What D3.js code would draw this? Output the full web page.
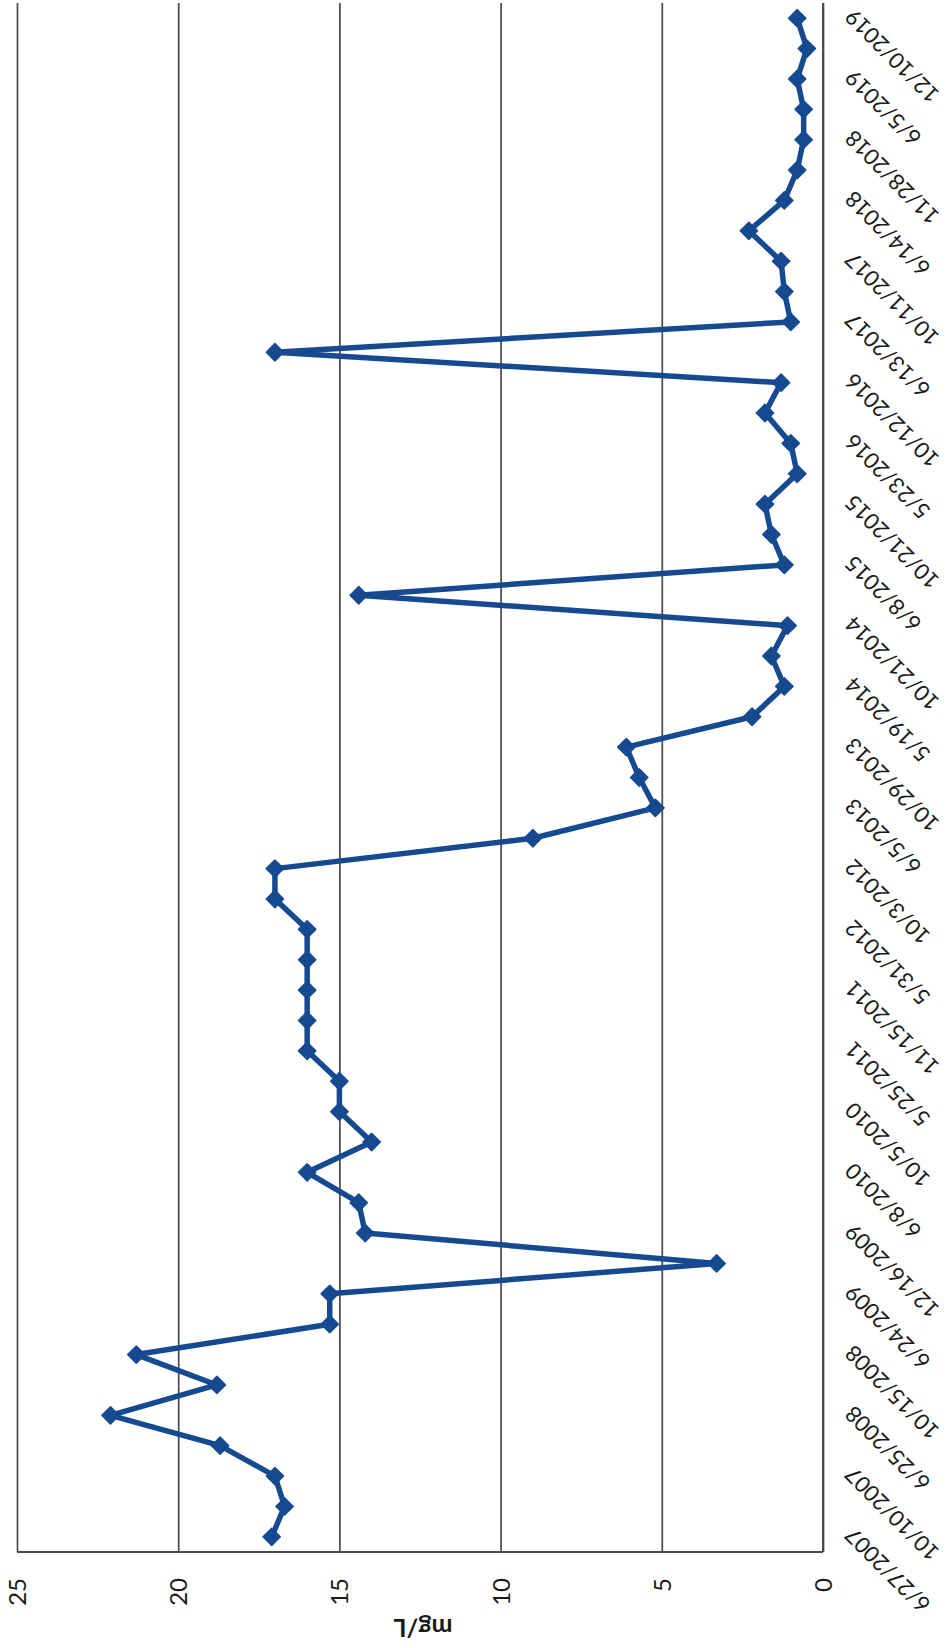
<!DOCTYPE html>
<html>
<head>
<meta charset="utf-8">
<script src="https://cdn.jsdelivr.net/npm/d3@7"></script>
<style>
  html, body { margin: 0; padding: 0; background: #ffffff; }
  svg { display: block; }
</style>
</head>
<body>
<svg id="chart" width="952" height="1648"></svg>
<script>
// Sampling dates (every other one is labelled on the axis; unlabelled ones are estimates)
const dates = [
  "6/27/2007","8/22/2007","10/10/2007","2/20/2008","6/25/2008","8/20/2008","10/15/2008","2/18/2009",
  "6/24/2009","9/16/2009","12/16/2009","3/17/2010","6/8/2010","8/10/2010","10/5/2010","2/15/2011",
  "5/25/2011","8/17/2011","11/15/2011","2/22/2012","5/31/2012","8/15/2012","10/3/2012","2/20/2013",
  "6/5/2013","8/21/2013","10/29/2013","2/19/2014","5/19/2014","8/12/2014","10/21/2014","2/17/2015",
  "6/8/2015","8/18/2015","10/21/2015","2/16/2016","5/23/2016","8/16/2016","10/12/2016","2/21/2017",
  "6/13/2017","8/15/2017","10/11/2017","2/20/2018","6/14/2018","8/21/2018","11/28/2018","2/19/2019",
  "6/5/2019","9/10/2019","12/10/2019"
];
// Concentration, mg/L
const values = [
  17.1, 16.7, 17.0, 18.7, 22.1, 18.8, 21.3, 15.3,
  15.3, 3.3, 14.2, 14.4, 16.0, 14.0, 15.0, 15.0,
  16.0, 16.0, 16.0, 16.0, 16.0, 17.0, 17.0, 9.0,
  5.2, 5.7, 6.1, 2.2, 1.2, 1.6, 1.1, 14.4,
  1.2, 1.6, 1.8, 0.8, 1.0, 1.8, 1.3, 17.0,
  1.0, 1.2, 1.3, 2.3, 1.2, 0.8, 0.6, 0.6,
  0.8, 0.5, 0.8
];
const tickLabels = [
  "6/27/2007","10/10/2007","6/25/2008","10/15/2008","6/24/2009","12/16/2009","6/8/2010",
  "10/5/2010","5/25/2011","11/15/2011","5/31/2012","10/3/2012","6/5/2013","10/29/2013",
  "5/19/2014","10/21/2014","6/8/2015","10/21/2015","5/23/2016","10/12/2016","6/13/2017",
  "10/11/2017","6/14/2018","11/28/2018","6/5/2019","12/10/2019"
];
const valueTicks = [0, 5, 10, 15, 20, 25];
const axisTitle = "mg/L";

const data = dates.map((d, i) => ({ date: d, value: values[i] }));

const W = 1648, H = 952;            // chart frame before rotation
const pLeft = 96, pRight = 1645, pTop = 17, pBottom = 823;
const lineColor = "#164a90";
const gridColor = "#4a4a4a";
const font = "Lato, 'Open Sans', sans-serif";

const svg = d3.select("#chart");
// The chart is drawn as a normal line chart and turned a quarter turn counter-clockwise
const g = svg.append("g").attr("transform", `translate(0,${W}) rotate(-90)`);

const x = d3.scalePoint().domain(dates).range([pLeft, pRight]).padding(0.5);
const y = d3.scaleLinear().domain([0, 25]).range([pBottom, pTop]);

// gridlines + value labels
const yAxis = g.append("g")
  .attr("transform", `translate(${pLeft},0)`)
  .call(d3.axisLeft(y).tickValues(valueTicks).tickSize(-(pRight - pLeft)).tickPadding(26));
yAxis.select(".domain").remove();
yAxis.selectAll(".tick line").attr("stroke", gridColor).attr("stroke-width", 1.7);
yAxis.selectAll(".tick text")
  .attr("font-family", font).attr("font-size", 24).attr("fill", "#1a1a1a")
  .attr("dy", "0.35em");

// left axis line
g.append("line")
  .attr("x1", pLeft).attr("x2", pLeft).attr("y1", pTop).attr("y2", pBottom)
  .attr("stroke", gridColor).attr("stroke-width", 2);

// category axis
const xAxis = g.append("g")
  .attr("transform", `translate(0,${pBottom})`)
  .call(d3.axisBottom(x).tickValues(tickLabels).tickSize(0).tickPadding(0));
xAxis.select(".domain").attr("stroke", gridColor).attr("stroke-width", 2)
  .attr("d", `M${pLeft},0H${pRight}`);
xAxis.selectAll(".tick text")
  .attr("font-family", font).attr("font-size", 22).attr("fill", "#1a1a1a")
  .attr("text-anchor", "end").attr("dy", "0.35em").attr("y", 0)
  .attr("transform", "translate(5,26) rotate(-45)");

// axis title
g.append("text")
  .attr("transform", `translate(20,${(pTop + pBottom) / 2 + 3}) rotate(-90)`)
  .attr("text-anchor", "middle").attr("dy", "0.35em")
  .attr("font-family", font).attr("font-size", 25).attr("font-weight", "bold").attr("fill", "#1a1a1a")
  .text(axisTitle);

// series line
g.append("path")
  .datum(data)
  .attr("fill", "none").attr("stroke", lineColor).attr("stroke-width", 5.5)
  .attr("stroke-linejoin", "round")
  .attr("d", d3.line().x(d => x(d.date)).y(d => y(d.value)));

// diamond markers
g.selectAll(".marker").data(data).enter().append("path")
  .attr("class", "marker")
  .attr("transform", d => `translate(${x(d.date)},${y(d.value)})`)
  .attr("d", d3.symbol().type(d3.symbolDiamond2).size(190))
  .attr("fill", lineColor).attr("stroke", lineColor).attr("stroke-width", 1.5)
  .attr("stroke-linejoin", "round");
</script>
</body>
</html>
